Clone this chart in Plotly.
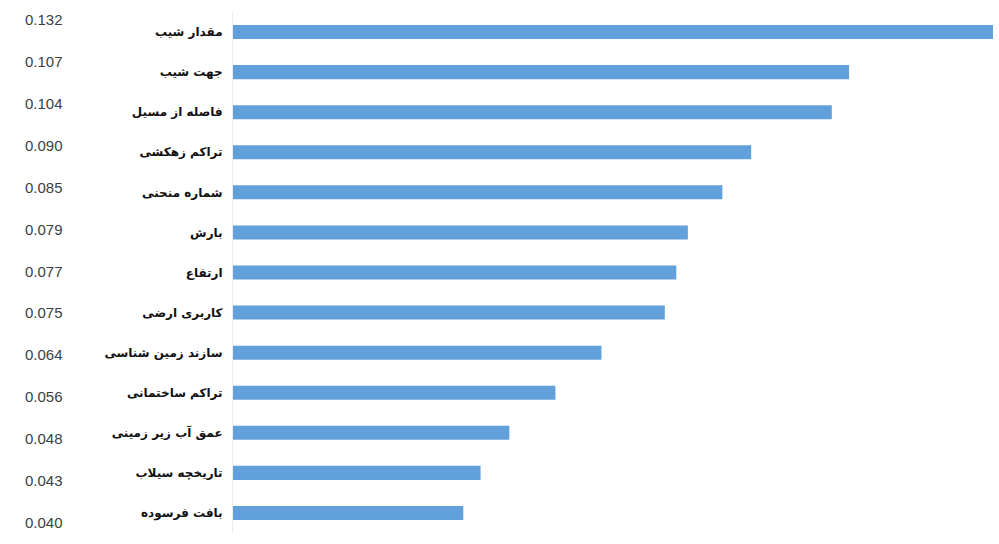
import plotly.graph_objects as go

categories = ["مقدار شیب", "جهت شیب", "فاصله از مسیل", "تراکم زهکشی", "شماره منحنی",
              "بارش", "ارتفاع", "کاربری ارضی", "سازند زمین شناسی", "تراکم ساختمانی",
              "عمق آب زیر زمینی", "تاریخچه سیلاب", "بافت فرسوده"]
values = [0.132, 0.107, 0.104, 0.090, 0.085, 0.079, 0.077, 0.075, 0.064, 0.056, 0.048, 0.043, 0.040]
value_labels = ["0.132", "0.107", "0.104", "0.090", "0.085", "0.079", "0.077", "0.075",
                "0.064", "0.056", "0.048", "0.043", "0.040"]

W, H = 999, 544
mt, mb, ml, mr = 12, 11, 233, 6

fig = go.Figure(go.Bar(
    x=values, y=categories, orientation="h",
    marker=dict(color="#62a0dc", line=dict(width=0)),
    hoverinfo="x+y",
))

plot_h = H - mt - mb
annotations = []
n = len(value_labels)
for i, lab in enumerate(value_labels):
    ypx = 20 + i * (522 - 20) / (n - 1)
    annotations.append(dict(
        text=lab, xref="paper", yref="paper",
        x=-(ml - 23) / (W - ml - mr), xanchor="left",
        y=1 - (ypx - mt) / plot_h, yanchor="middle",
        showarrow=False,
        font=dict(family="Liberation Sans", size=15, color="#404040"),
    ))

fig.update_layout(
    width=W, height=H,
    margin=dict(l=ml, r=mr, t=mt, b=mb),
    paper_bgcolor="white", plot_bgcolor="white",
    bargap=0.65,
    showlegend=False,
    annotations=annotations,
    xaxis=dict(range=[0, 0.132], visible=False, fixedrange=True),
    yaxis=dict(
        autorange="reversed", showgrid=False, zeroline=False,
        showline=True, linecolor="#ececec", linewidth=1,
        ticks="", ticklabelstandoff=7, fixedrange=True,
        tickfont=dict(family="DejaVu Sans", size=12, color="#111111", weight="bold"),
    ),
)

fig.write_html("out.html", config={"displayModeBar": False},
               post_script="document.body.style.margin='0';")
